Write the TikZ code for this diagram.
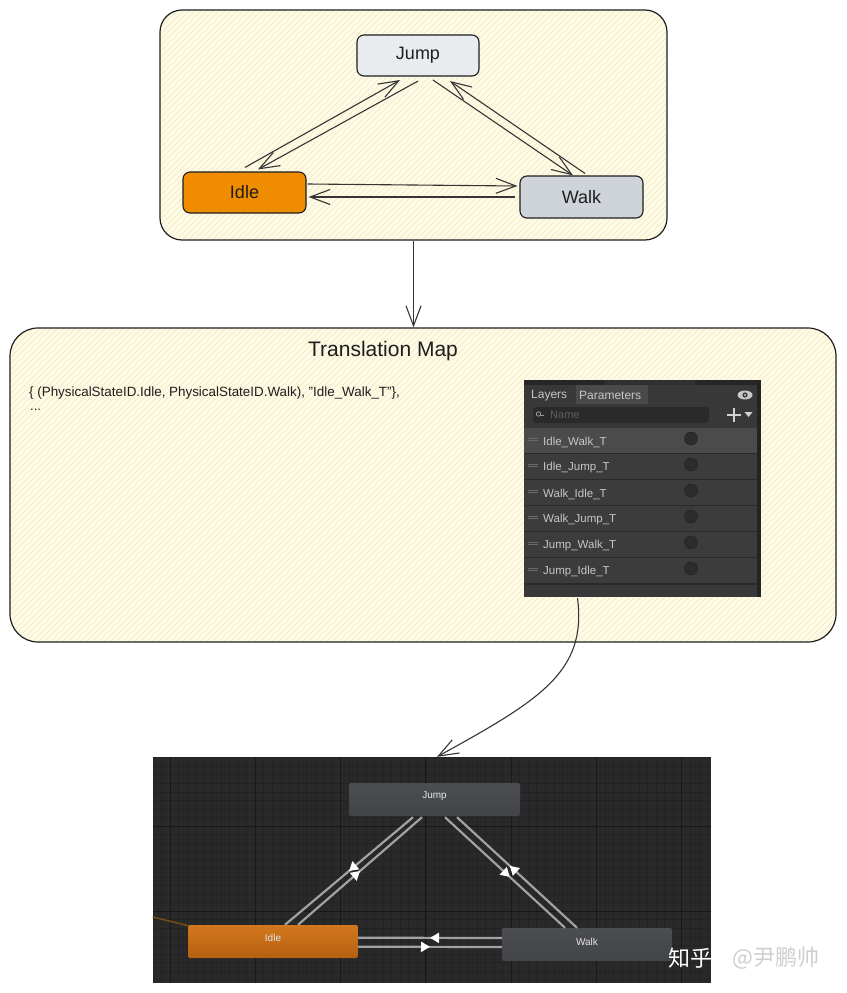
\documentclass[tikz,border=0pt]{standalone}
\usepackage{fontspec}
\setmainfont{Liberation Sans}
\newfontfamily\cjk{Noto Sans CJK SC}
\usetikzlibrary{arrows.meta,calc,decorations.markings}
\definecolor{framefill}{HTML}{FDFAE6}
\definecolor{hatchcol}{HTML}{F3EAC0}
\definecolor{inkcol}{HTML}{1E1E1E}
\definecolor{jumpfill}{HTML}{E9ECEF}
\definecolor{walkfill}{HTML}{CED4DA}
\definecolor{idlefill}{HTML}{F08C00}
\definecolor{panelbg}{HTML}{383838}
\definecolor{rowbg}{HTML}{3C3C3C}
\definecolor{rowhi}{HTML}{4B4B4B}
\definecolor{rowsep}{HTML}{2A2A2A}
\definecolor{paneltext}{HTML}{C6C6C6}
\definecolor{gridbg}{HTML}{292929}
\definecolor{gridminor}{HTML}{232323}
\definecolor{gridmajor}{HTML}{181818}
\definecolor{ugray}{HTML}{4B4D51}
\definecolor{ugraydark}{HTML}{424448}
\definecolor{uorange}{HTML}{D2781F}
\definecolor{uorangedark}{HTML}{B65F10}
\definecolor{translcol}{HTML}{A2A2A2}
\definecolor{entrycol}{HTML}{6E4C17}
\definecolor{topstrip}{HTML}{262626}
\definecolor{topstriptab}{HTML}{303030}
\definecolor{sidestrip}{HTML}{232323}
\definecolor{tabhi}{HTML}{4A4A4A}
\definecolor{iconcol}{HTML}{C8C8C8}
\definecolor{fieldcol}{HTML}{2A2A2A}
\definecolor{magcol}{HTML}{9A9A9A}
\definecolor{placeholder}{HTML}{5E5E5E}
\definecolor{pluscol}{HTML}{D0D0D0}
\definecolor{handlecol}{HTML}{6A6A6A}
\definecolor{dotfill}{HTML}{2C2C2C}
\definecolor{dotline}{HTML}{262626}
\definecolor{wmgray}{HTML}{CFCFCF}
\tikzset{
  hatched/.style={fill=framefill, path picture={
      \foreach \k in {-470,-464,...,840}
        \draw[hatchcol, line width=0.55pt]
          ($(path picture bounding box.south west)+(\k,0)$) -- ++(480pt,480pt);}},
  framebox/.style={hatched, draw=inkcol, line width=1.2pt, inner sep=0pt},
  sketchnode/.style={rectangle, rounded corners=7pt, draw=inkcol, line width=1.1pt,
      minimum width=122pt, minimum height=41pt, inner sep=0pt,
      font=\fontsize{18}{20}\selectfont, text=inkcol},
  sk/.style={draw=inkcol!90, line width=1.1pt,
      -{Straight Barb[length=20pt,width=15pt,line width=1.1pt]}},
  unode/.style={rectangle, rounded corners=2pt, minimum width=170pt, minimum height=32pt,
      inner sep=0pt},
  utext/.style={text=white!90!black, font=\fontsize{10}{12}\selectfont},
  utrans/.style={draw=translcol, line width=2.2pt,
      postaction={decorate, decoration={markings,
        mark=at position #1 with {\arrow[white]{Triangle[length=9pt,width=10pt]}}}}},
  utrans/.default=0.5,
  ptext/.style={text=paneltext, font=\fontsize{11.5}{13}\selectfont, inner sep=0pt, anchor=west},
}
\begin{document}
\begin{tikzpicture}[x=1pt,y=-1pt]
\useasboundingbox (0,0) rectangle (846,993);
\fill[white] (0,0) rectangle (846,993);

% ---------- top frame ----------
\node[framebox, rounded corners=22pt, minimum width=507pt, minimum height=230pt] (f1) at (413.5,125) {};
\node[sketchnode, fill=jumpfill] (j1) at (418,55.5) {Jump};
\node[sketchnode, fill=idlefill, minimum width=123pt] (i1) at (244.5,192.5) {Idle};
\node[sketchnode, fill=walkfill, minimum width=123pt, minimum height=42pt] (w1) at (581.5,197) {Walk};

\draw[sk] ($(i1.north)+(0.5,-4)$) -- ($(j1.south)+(-18,3.5)$);
\draw[sk] ($(j1.south)+(0,4.5)$) -- ($(i1.north)+(13.5,-2)$);
\draw[sk] ($(j1.south)+(15,3.5)$) -- ($(w1.north)+(-8.5,0)$);
\draw[sk] ($(w1.north)+(3.5,-2)$) -- ($(j1.south)+(32,4.5)$);
\draw[sk] ($(i1.east)+(1,-8.5)$) -- ($(w1.west)+(-2,-11)$);
\draw[sk] ($(w1.west)+(-4,0)$) -- ($(i1.east)+(2,4.5)$);

% ---------- middle frame ----------
\node[framebox, rounded corners=28pt, minimum width=826pt, minimum height=314pt] (f2) at (423,485) {};
\draw[sk] (f1.south) -- (f1.south |- f2.north);
\node[text=inkcol, font=\fontsize{21}{24}\selectfont, inner sep=0pt] (title) at (383,351) {Translation Map};
\node[text=inkcol, font=\fontsize{13.4}{15}\selectfont, inner sep=0pt, anchor=west] (code1) at (29,393)
  {\{ (PhysicalStateID.Idle, PhysicalStateID.Walk), "Idle\_Walk\_T"\},};
\node[text=inkcol, font=\fontsize{13}{15}\selectfont, inner sep=0pt, anchor=west] (code2) at (30,410) {...};

% ---------- Unity parameters panel ----------
\node[rectangle, fill=panelbg, minimum width=237pt, minimum height=217pt, inner sep=0pt] (panel) at (642.5,488.5) {};
\fill[topstrip] (524,380) rectangle (761,385);
\fill[topstriptab] (605,380) rectangle (695,385);
\fill[sidestrip] (757,380) rectangle (761,597);
\fill[tabhi] (576,385) rectangle (648,404);
\node[ptext, font=\fontsize{12}{14}\selectfont] (tabL) at (531,395.5) {Layers};
\node[ptext, font=\fontsize{12}{14}\selectfont] (tabP) at (579,395.5) {Parameters};
% eye icon
\fill[iconcol] (745,395) ellipse (7.5pt and 4.5pt);
\fill[panelbg] (745,395) circle (2.6pt);
\fill[iconcol] (745,395) circle (1.2pt);
% search field
\fill[fieldcol, rounded corners=3pt] (533,407) rectangle (709,423);
\draw[magcol, line width=0.8pt] (538.5,414) circle (2.2pt);
\draw[magcol, line width=0.8pt] (540.3,415.2) -- (543.5,415.2);
\node[ptext, text=placeholder, font=\fontsize{11}{13}\selectfont] (sname) at (550,415) {Name};
% plus and dropdown
\draw[pluscol, line width=2pt] (727,414.5) -- (741,414.5) (734,407.5) -- (734,421.5);
\fill[pluscol] (744.5,412) -- (752.5,412) -- (748.5,417) -- cycle;
% rows
\foreach \n [count=\i] in {Idle\_Walk\_T, Idle\_Jump\_T, Walk\_Idle\_T, Walk\_Jump\_T, Jump\_Walk\_T, Jump\_Idle\_T} {
  \pgfmathsetmacro{\yt}{428+(\i-1)*26}
  \ifnum\i=1 \def\rc{rowhi}\else\def\rc{rowbg}\fi
  \fill[\rc] (524,\yt) rectangle (757,\yt+26);
  \draw[rowsep, line width=1.3pt] (524,\yt+26) -- (757,\yt+26);
  \draw[handlecol, line width=0.7pt] (528,\yt+10) -- (538,\yt+10) (528,\yt+12.5) -- (538,\yt+12.5);
  \node[ptext] (row\i) at (543,\yt+14) {\n};
  \fill[dotfill] (691,\yt+10.5) circle (6.5pt);
  \draw[dotline, line width=0.6pt] (691,\yt+10.5) circle (6.5pt);
}

% ---------- Unity animator screenshot ----------
\node[rectangle, fill=gridbg, minimum width=558pt, minimum height=226pt, inner sep=0pt] (shot) at (432,870) {};
\begin{scope}
  \clip (153,757) rectangle (711,983);
  \foreach \i in {0,...,66} \draw[gridminor, line width=0.7pt] ({152.94+\i*8.53},757) -- ++(0,226);
  \foreach \i in {0,...,27} \draw[gridminor, line width=0.7pt] (153,{757.76+\i*8.53}) -- ++(558,0);
  \foreach \i in {0,...,6} \draw[gridmajor, line width=1pt] ({170+\i*85.3},757) -- ++(0,226);
  \foreach \i in {0,1} \draw[gridmajor, line width=1pt] (153,{826+\i*85.3}) -- ++(558,0);
\end{scope}

\node[unode, top color=ugray, bottom color=ugraydark, minimum width=171pt, minimum height=33pt,
      label={[utext, yshift=3.5pt]center:Jump}] (j2) at (434.5,799.5) {};
\node[unode, top color=uorange, bottom color=uorangedark, minimum height=33pt,
      label={[utext, yshift=3.5pt]center:Idle}] (i2) at (273,941.5) {};
\node[unode, top color=ugray, bottom color=ugraydark, minimum height=33pt,
      label={[utext, yshift=3pt]center:Walk}] (w2) at (587,944.5) {};

\draw[entrycol, line width=1.6pt] ($(shot.west)+(0,47)$) -- ($(i2.north west)+(1,1)$);

\draw[utrans] ($(j2.south)+(-21.5,1)$) -- ($(i2.north)+(12,0)$);
\draw[utrans] ($(i2.north)+(25,0)$) -- ($(j2.south)+(-12.5,1)$);
\draw[utrans=0.54] ($(j2.south)+(10.5,1)$) -- ($(w2.north)+(-22,0)$);
\draw[utrans=0.56] ($(w2.north)+(-10,0)$) -- ($(j2.south)+(22.5,1)$);
\draw[utrans] ($(w2.west)+(0,-6.5)$) -- ($(i2.east)+(0,-3.8)$);
\draw[utrans] ($(i2.east)+(0,5.2)$) -- ($(w2.west)+(0,2.5)$);

% ---------- curved connector ----------
\draw[sk] ($(panel.south)+(-65,1)$) .. controls (587,672) and (540,700) .. ($(shot.north)+(5,0)$);

% ---------- watermark ----------
\node[text=white, font=\cjk\fontsize{22}{24}\selectfont, inner sep=0pt] (zh) at (690,958) {知乎};
\node[text=wmgray, font=\cjk\fontsize{22}{24}\selectfont, inner sep=0pt] (au) at (776,958) {@尹鹏帅};
\end{tikzpicture}
\end{document}
